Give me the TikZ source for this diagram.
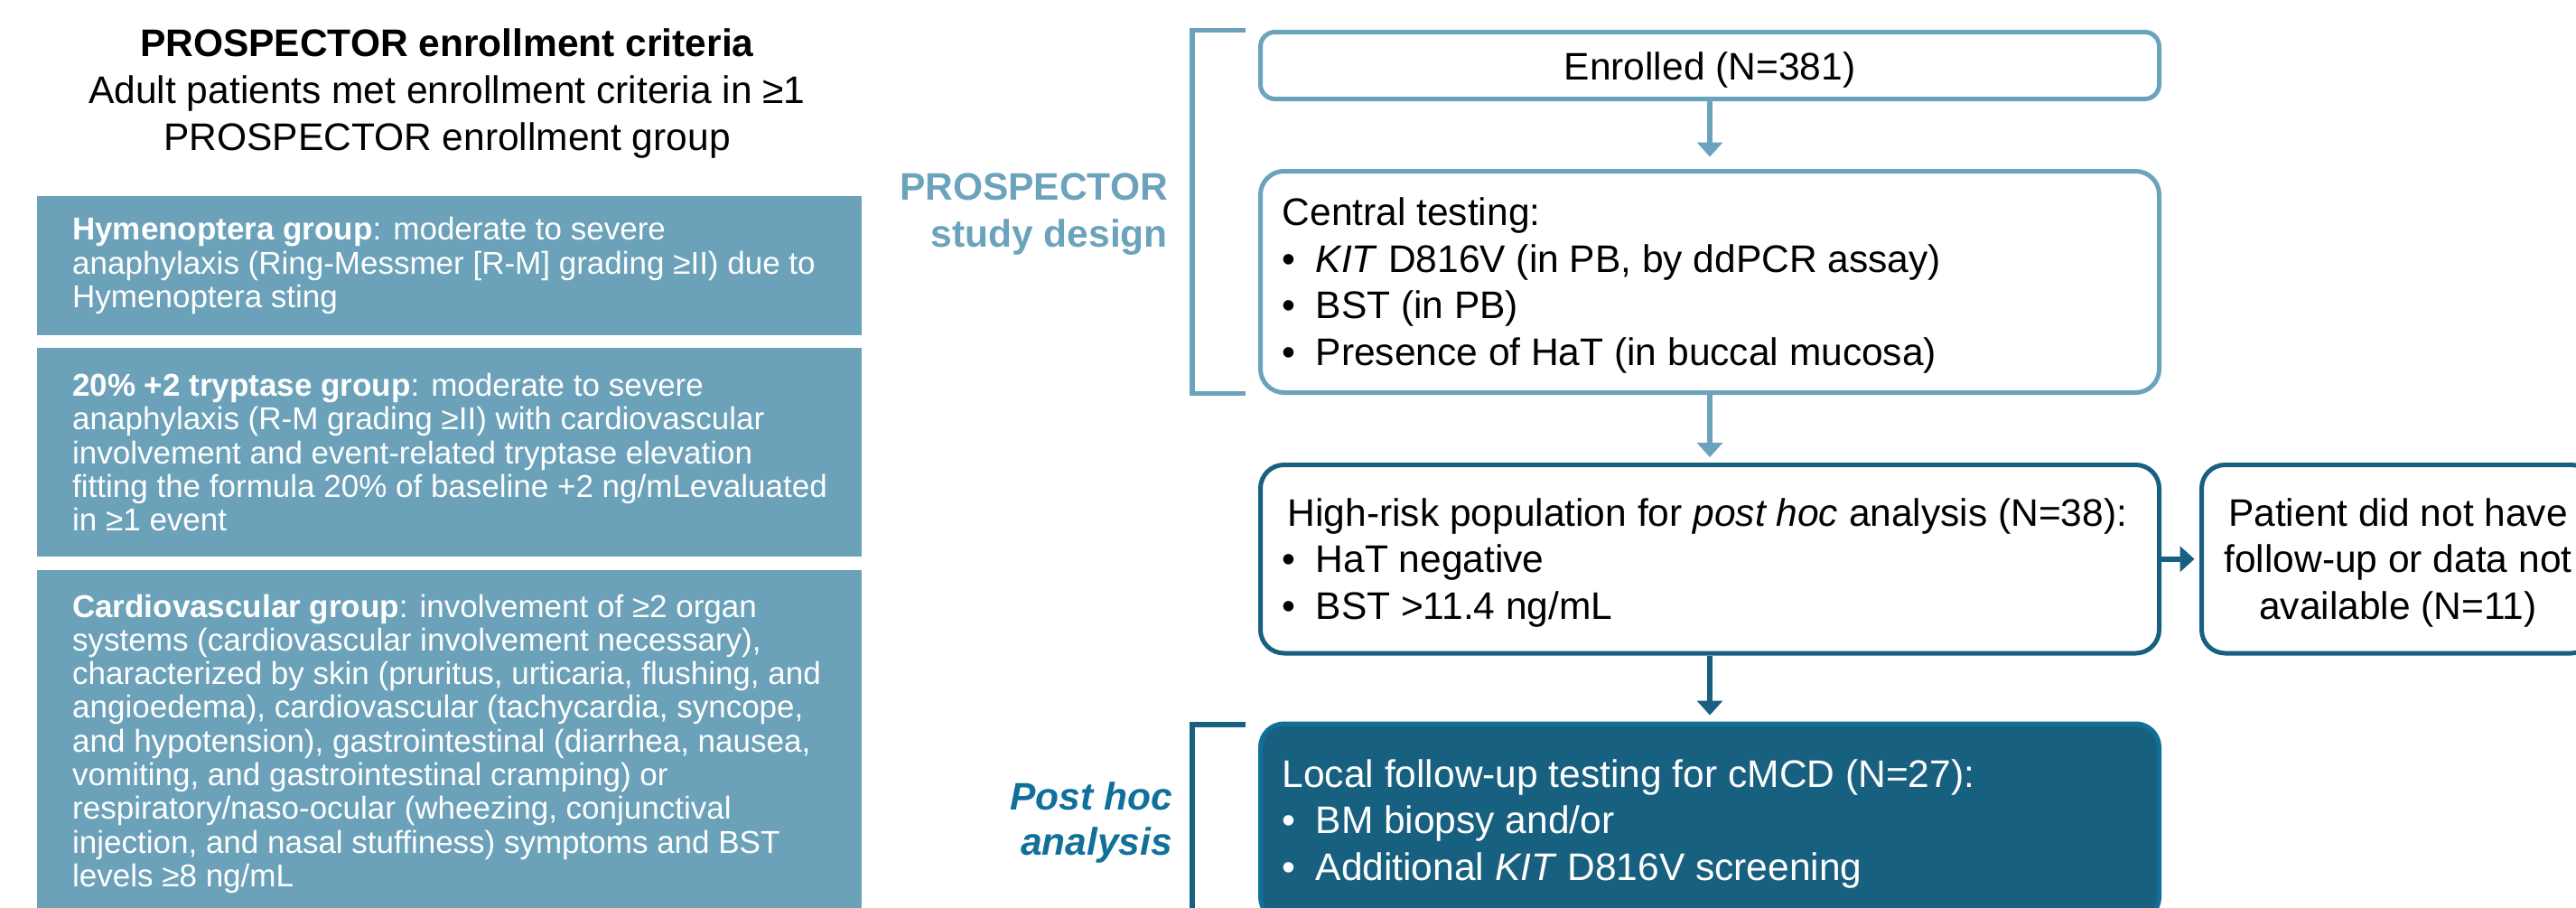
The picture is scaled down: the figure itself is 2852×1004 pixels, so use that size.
\documentclass[tikz,border=0pt]{standalone}
\usepackage{fontspec}
\setmainfont{Liberation Sans}
\usetikzlibrary{arrows.meta}
\definecolor{lightb}{RGB}{108,163,188}
\definecolor{leftfill}{RGB}{107,162,186}
\definecolor{darkb}{RGB}{24,96,128}
\definecolor{edgeb}{RGB}{16,112,154}
\newcommand\flowfont{\fontsize{42.5}{51.5}\selectfont}
\newcommand\leftfont{\fontsize{35}{37.3}\selectfont}
\newcommand\titlefont{\fontsize{42.5}{52}\selectfont}
\newcommand\labAfont{\fontsize{42.5}{52}\selectfont\bfseries}
\newcommand\labBfont{\fontsize{42.5}{50}\selectfont\bfseries\itshape}
\newcommand\bul{\makebox[37pt][l]{\textbullet}}
\tikzset{
  leftbox/.style={fill=leftfill, draw=none, inner sep=0pt, anchor=north west, minimum width=913pt},
  lefttext/.style={text=white, align=left, inner sep=0pt, anchor=west, font=\leftfont},
  lightbox/.style={draw=lightb, line width=5pt, fill=white, inner sep=0pt, minimum width=995pt},
  darkbox/.style={draw=darkb, line width=5pt, fill=white, inner sep=0pt, rounded corners=26pt},
  filledbox/.style={draw=edgeb, line width=5pt, fill=darkb, inner sep=0pt, rounded corners=26pt},
  flowtext/.style={align=left, inner sep=0pt, anchor=west, font=\flowfont},
  centertext/.style={align=center, inner sep=0pt, font=\flowfont},
  lightarr/.style={draw=lightb, line width=5.5pt, -{Triangle[width=29pt,length=16pt,line width=0pt]}},
  darkarr/.style={draw=darkb, line width=5.5pt, -{Triangle[width=29pt,length=16pt,line width=0pt]}},
  bracketA/.style={draw=lightb, line width=5.5pt},
  bracketB/.style={draw=darkb, line width=5.5pt},
}
\begin{document}
\begin{tikzpicture}[x=1pt,y=-1pt]
\useasboundingbox (0,0) rectangle (2852,1004);
\clip (0,0) rectangle (2852,1004);

% title
\node[anchor=north, align=center, font=\titlefont, inner sep=0pt] (title) at (495,32)
  {\textbf{PROSPECTOR enrollment criteria}\\Adult patients met enrollment criteria in ≥1\\PROSPECTOR enrollment group};

% left criteria boxes
\node[leftbox, minimum height=154pt] (lb1) at (41,217) {};
\node[lefttext] (lt1) at ([xshift=39pt]lb1.west)
  {\textbf{Hymenoptera group}: moderate to severe\\anaphylaxis (Ring-Messmer [R-M] grading ≥II) due to\\Hymenoptera sting};
\node[leftbox, minimum height=231pt] (lb2) at (41,385) {};
\node[lefttext] (lt2) at ([xshift=39pt]lb2.west)
  {\textbf{20\% +2 tryptase group}: moderate to severe\\anaphylaxis (R-M grading ≥II) with cardiovascular\\involvement and event-related tryptase elevation\\fitting the formula 20\% of baseline +2 ng/mLevaluated\\in ≥1 event};
\node[leftbox, minimum height=384pt] (lb3) at (41,631) {};
\node[lefttext] (lt3) at ([xshift=39pt]lb3.west)
  {\textbf{Cardiovascular group}: involvement of ≥2 organ\\systems (cardiovascular involvement necessary),\\characterized by skin (pruritus, urticaria, flushing, and\\angioedema), cardiovascular (tachycardia, syncope,\\and hypotension), gastrointestinal (diarrhea, nausea,\\vomiting, and gastrointestinal cramping) or\\respiratory/naso-ocular (wheezing, conjunctival\\injection, and nasal stuffiness) symptoms and BST\\levels ≥8 ng/mL};

% side labels
\node[anchor=north east, align=right, font=\labAfont, text=lightb, inner sep=0pt] (labA) at (1293,192)
  {PROSPECTOR\\study design};
\node[anchor=north east, align=right, font=\labBfont, text=edgeb, inner sep=0pt] (labB) at (1298,865)
  {Post hoc\\analysis};

% brackets
\draw[bracketA] (1379,33.5) -- (1320,33.5) -- (1320,435.5) -- (1379,435.5);
\draw[bracketB] (1379,802) -- (1320,802) -- (1320,1030);

% flow boxes
\node[lightbox, minimum height=74pt, rounded corners=16pt] (b1) at (1893,72.5) {};
\node[centertext] (t1) at ([yshift=-4.5pt]b1.center) {Enrolled (N=381)};
\node[lightbox, minimum height=245pt, rounded corners=26pt] (b2) at (1893,312) {};
\node[flowtext] (t2) at ([xshift=26.5pt,yshift=-4pt]b2.west)
  {Central testing:\\\bul\textit{KIT} D816V (in PB, by ddPCR assay)\\\bul BST (in PB)\\\bul Presence of HaT (in buccal mucosa)};
\node[darkbox, minimum width=995pt, minimum height=208.5pt] (b3) at (1893,618.75) {};
\node[flowtext] (t3) at ([xshift=26.5pt,yshift=-4pt]b3.west)
  {\hspace*{6pt}High-risk population for \textit{post hoc} analysis (N=38):\\\bul HaT negative\\\bul BST >11.4 ng/mL};
\node[darkbox, minimum width=435pt, minimum height=208.5pt] (b5) at (2655,618.75) {};
\node[centertext] (t5) at ([yshift=-4pt]b5.center)
  {Patient did not have\\follow-up or data not\\available (N=11)};
\node[filledbox, minimum width=995pt, minimum height=218pt] (b4) at (1893,910) {};
\node[flowtext, text=white] (t4) at ([xshift=26.5pt,yshift=-1.5pt]b4.west)
  {Local follow-up testing for cMCD (N=27):\\\bul BM biopsy and/or\\\bul Additional \textit{KIT} D816V screening};

% connectors
\draw[lightarr, shorten >=13.5pt] (b1.south) -- (b2.north);
\draw[lightarr, shorten >=6pt] (b2.south) -- (b3.north);
\draw[darkarr, shorten >=7pt] (b3.south) -- (b4.north);
\draw[darkarr, shorten >=5.5pt] (b3.east) -- (b5.west);
\end{tikzpicture}
\end{document}
